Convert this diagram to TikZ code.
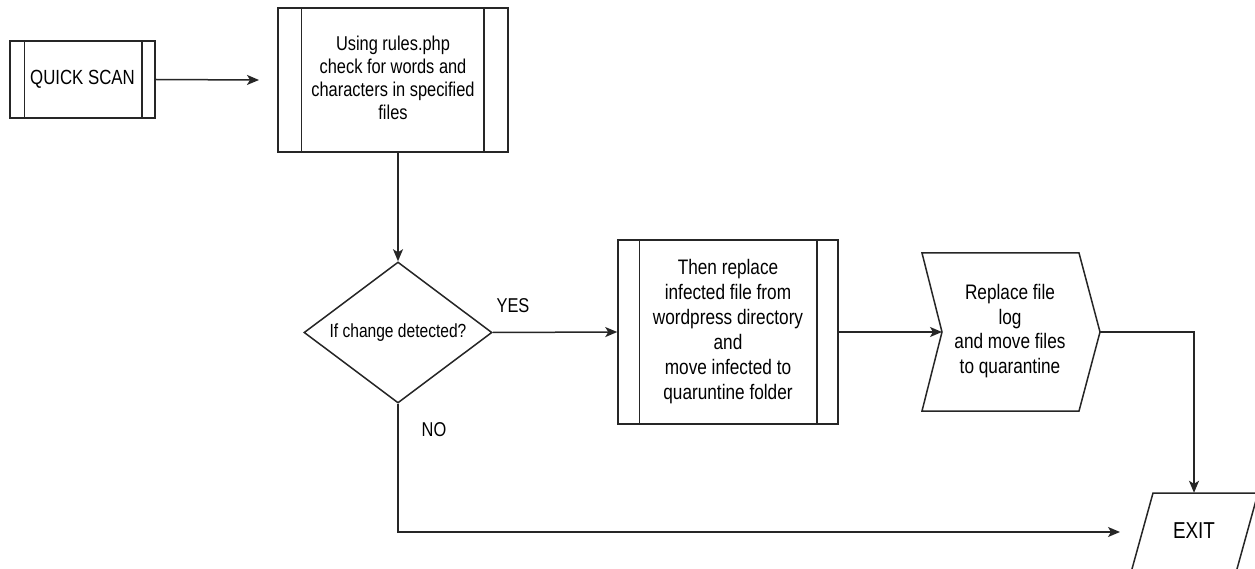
\documentclass[tikz,border=0pt]{standalone}
\usepackage{fontspec}
\setmainfont{Liberation Sans}[FakeStretch=0.82]
\usetikzlibrary{arrows.meta,shapes.geometric}
\tikzset{
  ln/.style={line width=1.5pt, draw=black!85},
  arr/.style={ln, -{Stealth[length=12pt,width=10pt,inset=3pt]}},
  proc/.style={ln, rectangle, inner sep=0pt, align=center},
  txt/.style={inner sep=0pt, align=center},
}
\newcommand{\fs}[2]{\fontsize{#1}{#2}\selectfont}
\begin{document}
\begin{tikzpicture}[x=1pt,y=-1pt]
\useasboundingbox (0,0) rectangle (1255,569);
\clip (0,0) rectangle (1255,569);
\fill[white] (0,0) rectangle (1255,569);

% QUICK SCAN
\node[proc, minimum width=145pt, minimum height=77pt, font=\fs{20.5}{24}] (qs) at (82.5,79.5) {QUICK SCAN};
\draw[ln] ([xshift=15pt]qs.north west) -- ([xshift=15pt]qs.south west);
\draw[ln] ([xshift=-14pt]qs.north east) -- ([xshift=-14pt]qs.south east);

% rules box
\node[proc, minimum width=230pt, minimum height=144pt] (rules) at (393,80) {};
\draw[ln] ([xshift=24pt]rules.north west) -- ([xshift=24pt]rules.south west);
\draw[ln] ([xshift=-25pt]rules.north east) -- ([xshift=-25pt]rules.south east);
\node[txt, font=\fs{20}{23}] (rulestxt) at (393,78) {Using rules.php\\check for words and\\characters in specified\\files};

% decision
\node[diamond, ln, minimum width=188pt, minimum height=141pt, inner sep=0pt] (dec) at (398,332.5) {};
\node[txt, font=\fs{19}{22}] (dectxt) at (398,332.5) {If change detected?};

% replace box
\node[proc, minimum width=220pt, minimum height=184pt, font=\fs{21}{25}] (repl) at (728,332) {Then replace\\infected file from\\wordpress directory\\and\\move infected to\\quaruntine folder};
\draw[ln] ([xshift=22pt]repl.north west) -- ([xshift=22pt]repl.south west);
\draw[ln] ([xshift=-22pt]repl.north east) -- ([xshift=-22pt]repl.south east);

% chevron log
\draw[ln] (922,253) -- (1079,253) -- (1100,332) -- (1079,411) -- (922,411) -- (942,332) -- cycle;
\node[txt, font=\fs{21}{24.5}] (log) at (1010,331) {Replace file\\log\\and move files\\to quarantine};
\coordinate (lognotch) at (942,332);
\coordinate (logtip) at (1100,332);

% exit
\draw[ln] (1153,493) -- (1258,493) -- (1228.4,600) -- (1123.4,600) -- cycle;
\node[txt, minimum height=76pt, font=\fs{23}{26}] (exit) at (1194,531) {EXIT};
\coordinate (exitin) at (1120,532);
\coordinate (rulesin) at (259,80);

% connectors
\draw[arr] (qs.east) -- (rulesin);
\draw[arr] ([xshift=5pt]rules.south) -- (dec.north);
\draw[arr] (dec.east) -- (repl.west);
\draw[arr] (repl.east) -- (lognotch);
\draw[arr] (logtip) -| (exit.north);
\draw[arr] (dec.south) |- (exitin);

% labels
\node[txt, font=\fs{20}{22}] (yes) at (513,306) {YES};
\node[txt, font=\fs{20}{22}] (no) at (434,430) {NO};
\end{tikzpicture}
\end{document}
